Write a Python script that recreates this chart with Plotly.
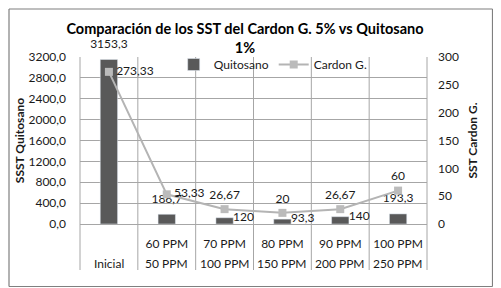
import plotly.graph_objects as go

outer_labels = ["Inicial", "50 PPM", "100 PPM", "150 PPM", "200 PPM", "250 PPM"]
inner_labels = ["", "60 PPM", "70 PPM", "80 PPM", "90 PPM", "100 PPM"]
quitosano = [3153.3, 186.7, 120, 93.3, 140, 193.3]
cardon = [273.33, 53.33, 26.67, 20, 26.67, 60]

bar_text_pos = ["top center", "top center", "middle right", "middle right", "middle right", "top center"]
line_text_pos = ["middle right", "middle right", "top center", "top center", "top center", "top center"]


def fmt(v):
    return f"{v:g}".replace(".", ",")


W, H = 501, 288
L, R, T, B = 72, 82, 49, 72
pw, ph = W - L - R, H - T - B


def px_x(X):
    return (X - L) / pw


def px_y(Y):
    return (H - B - Y) / ph


FONT = "Lato"
GRID = "#a6a6a6"
TXT = "#1a1a1a"
x = outer_labels

fig = go.Figure()
fig.add_trace(go.Bar(
    x=x, y=quitosano, name="Quitosano", marker=dict(color="#595959"),
    width=0.3, yaxis="y",
))
fig.add_trace(go.Scatter(
    x=x, y=cardon, name="Cardon G.", mode="lines+markers",
    line=dict(color="#b4b4b4", width=2), marker=dict(symbol="square", size=8, color="#bbbbbb"),
    yaxis="y2",
))
# bar labels
fig.add_trace(go.Scatter(
    x=x, y=quitosano, mode="markers+text", text=[fmt(v) for v in quitosano],
    textposition=bar_text_pos, marker=dict(size=12, opacity=0), showlegend=False,
    textfont=dict(family=FONT, size=12, color=TXT), cliponaxis=False, hoverinfo="skip",
    yaxis="y",
))
# line labels
fig.add_trace(go.Scatter(
    x=x, y=cardon, mode="markers+text", text=[fmt(v) for v in cardon],
    textposition=line_text_pos, marker=dict(size=10, opacity=0), showlegend=False,
    textfont=dict(family=FONT, size=12, color=TXT), cliponaxis=False, hoverinfo="skip",
    yaxis="y2",
))

n = len(outer_labels)
div_bottom = -46 / ph
shapes = []
for k in range(0, n + 1):
    shapes.append(dict(type="line", xref="paper", yref="paper", x0=k / n, x1=k / n,
                       y0=div_bottom, y1=1, line=dict(color=GRID, width=1), layer="below"))
# outer chart border, as four edges
BORDER = dict(color="#7f7f7f", width=1.2)
bx0, bx1, by0, by1 = px_x(1), px_x(484.5), px_y(278.5), px_y(1)
for (ax0, ay0, ax1, ay1) in [(bx0, by0, bx0, by1), (bx1, by0, bx1, by1),
                             (bx0, by0, bx1, by0), (bx0, by1, bx1, by1)]:
    shapes.append(dict(type="line", xref="paper", yref="paper", x0=ax0, y0=ay0, x1=ax1, y1=ay1,
                       line=BORDER, layer="above"))

annotations = []
for lab in outer_labels:
    annotations.append(dict(x=lab, xref="x", y=0, yref="paper", yshift=-39, text=lab,
                            showarrow=False, font=dict(family=FONT, size=12, color=TXT),
                            xanchor="center", yanchor="middle"))

fig.update_layout(
    width=W, height=H,
    margin=dict(l=L, r=R, t=T, b=B),
    paper_bgcolor="white", plot_bgcolor="white",
    separators=",.",
    font=dict(family=FONT, size=12, color=TXT),
    title=dict(text="<b>Comparación de los SST del Cardon G. 5% vs Quitosano<br>1%</b>",
               x=0.473, xanchor="center", y=0.91, yanchor="top",
               font=dict(family=FONT, size=14.5, color="#000000")),
    showlegend=True,
    legend=dict(orientation="h", x=0.27, y=0.955, xanchor="left", yanchor="middle",
                bgcolor="rgba(0,0,0,0)", font=dict(family=FONT, size=12, color=TXT),
                tracegroupgap=0),
    xaxis=dict(type="category", showgrid=False, showline=True, linecolor=GRID,
               ticks="", tickvals=outer_labels, ticktext=inner_labels, ticklabelstandoff=9,
               tickfont=dict(family=FONT, size=12, color=TXT), range=[-0.5, n - 0.5],
               automargin=False),
    yaxis=dict(range=[0, 3200], dtick=400, tickformat=".1f", showgrid=True, gridcolor=GRID,
               gridwidth=1, showline=False, zeroline=False, automargin=False,
               ticklabelstandoff=13,
               title=dict(text="<b>SSST Quitosano</b>", font=dict(family=FONT, size=12, color=TXT), standoff=1),
               tickfont=dict(family=FONT, size=12, color=TXT)),
    yaxis2=dict(range=[0, 300], dtick=50, overlaying="y", side="right", showgrid=False,
                zeroline=False, showline=False, automargin=False, ticklabelstandoff=10,
                title=dict(text="<b>SST Cardon G.</b>", font=dict(family=FONT, size=12, color=TXT), standoff=10),
                tickfont=dict(family=FONT, size=12, color=TXT)),
    shapes=shapes,
    annotations=annotations,
)

fig.write_html("out.html")
